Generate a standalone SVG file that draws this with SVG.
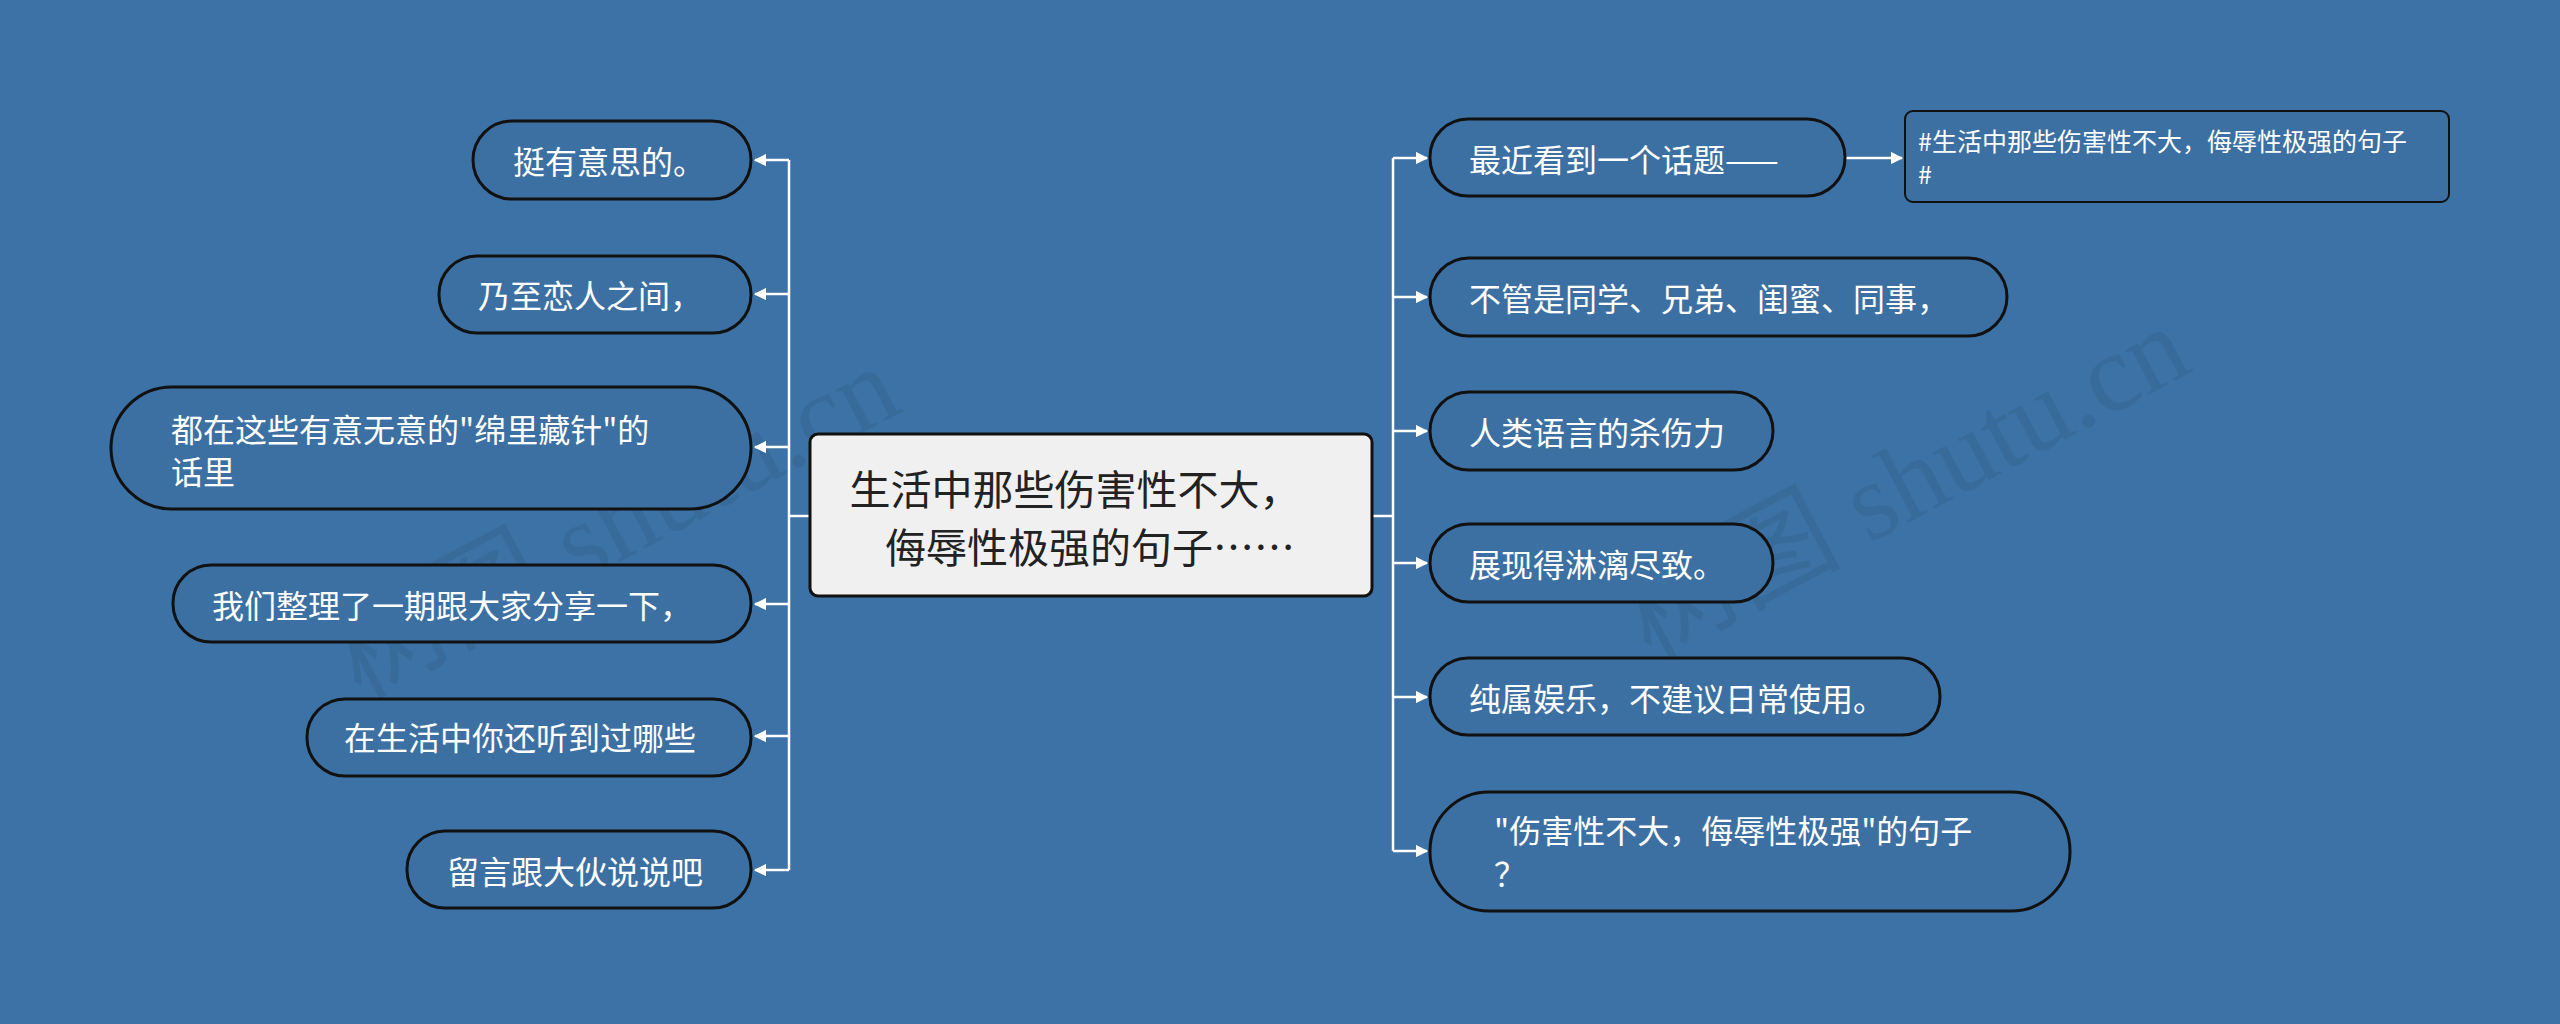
<svg xmlns="http://www.w3.org/2000/svg" width="2560" height="1024" viewBox="0 0 2560 1024">
<defs>
<marker id="ah" viewBox="0 0 10 10" refX="9" refY="5" markerWidth="5" markerHeight="5" orient="auto"><path d="M0,0 L10,5 L0,10 z" fill="#ffffff"/></marker>
<style>
.n{fill:#3c70a3;stroke:#111;stroke-width:3}
.t{fill:#fff;font-family:"Noto Sans CJK SC","Noto Sans",sans-serif;font-size:32px;dominant-baseline:central}
.c{fill:none;stroke:#fff;stroke-width:2.5}
.wm{fill:#000;opacity:0.06;font-family:"Liberation Serif","Noto Sans CJK SC",serif;font-size:110px}
</style>
</defs>
<rect width="2560" height="1024" fill="#3c72a5"/>
<text class="wm" transform="translate(360,700) rotate(-28)">树图 shutu.cn</text>
<text class="wm" transform="translate(1650,660) rotate(-28)">树图 shutu.cn</text>
<g id="connectors">
<path class="c" d="M810,516 H789 M789,160 V870"/>
<path class="c" marker-end="url(#ah)" d="M789,160 H755"/>
<path class="c" marker-end="url(#ah)" d="M789,294 H755"/>
<path class="c" marker-end="url(#ah)" d="M789,447 H755"/>
<path class="c" marker-end="url(#ah)" d="M789,604 H755"/>
<path class="c" marker-end="url(#ah)" d="M789,736 H755"/>
<path class="c" marker-end="url(#ah)" d="M789,870 H755"/>
<path class="c" d="M1372,516 H1393 M1393,158 V851"/>
<path class="c" marker-end="url(#ah)" d="M1393,158 H1427"/>
<path class="c" marker-end="url(#ah)" d="M1393,297 H1427"/>
<path class="c" marker-end="url(#ah)" d="M1393,431 H1427"/>
<path class="c" marker-end="url(#ah)" d="M1393,563 H1427"/>
<path class="c" marker-end="url(#ah)" d="M1393,697 H1427"/>
<path class="c" marker-end="url(#ah)" d="M1393,851 H1427"/>
<path class="c" marker-end="url(#ah)" d="M1845,158 H1902"/>
</g>
<g id="center"><rect x="810" y="434" width="562" height="162" rx="8" fill="#f0f0f0" stroke="#111" stroke-width="3"/>
<text x="1075" y="487" text-anchor="middle" font-family="Noto Sans CJK SC,sans-serif" font-size="41" fill="#222" dominant-baseline="central">生活中那些伤害性不大，</text>
<text x="1090" y="545" text-anchor="middle" font-family="Noto Sans CJK SC,sans-serif" font-size="41" fill="#222" dominant-baseline="central">侮辱性极强的句子……</text></g>
<g id="l1"><rect class="n" x="473" y="121" width="278" height="78" rx="39"/><text class="t" x="513" y="160">挺有意思的。</text></g>
<g id="l2"><rect class="n" x="439" y="256" width="312" height="77" rx="38"/><text class="t" x="478" y="294">乃至恋人之间，</text></g>
<g id="l3"><rect class="n" x="111" y="387" width="640" height="122" rx="61"/><text class="t" x="171" y="428">都在这些有意无意的"绵里藏针"的</text><text class="t" x="171" y="470">话里</text></g>
<g id="l4"><rect class="n" x="173" y="565" width="578" height="77" rx="38"/><text class="t" x="212" y="604">我们整理了一期跟大家分享一下，</text></g>
<g id="l5"><rect class="n" x="307" y="699" width="444" height="77" rx="38"/><text class="t" x="344" y="736">在生活中你还听到过哪些</text></g>
<g id="l6"><rect class="n" x="407" y="831" width="344" height="77" rx="38"/><text class="t" x="447" y="870">留言跟大伙说说吧</text></g>
<g id="r1"><rect class="n" x="1430" y="119" width="415" height="77" rx="38"/><text class="t" x="1469" y="158">最近看到一个话题——</text></g>
<g id="r2"><rect class="n" x="1430" y="258" width="577" height="78" rx="39"/><text class="t" x="1469" y="297">不管是同学、兄弟、闺蜜、同事，</text></g>
<g id="r3"><rect class="n" x="1430" y="392" width="343" height="78" rx="39"/><text class="t" x="1469" y="431">人类语言的杀伤力</text></g>
<g id="r4"><rect class="n" x="1430" y="524" width="343" height="78" rx="39"/><text class="t" x="1469" y="563">展现得淋漓尽致。</text></g>
<g id="r5"><rect class="n" x="1430" y="658" width="510" height="77" rx="38"/><text class="t" x="1469" y="697">纯属娱乐，不建议日常使用。</text></g>
<g id="r6"><rect class="n" x="1430" y="792" width="640" height="119" rx="59"/><text class="t" x="1494" y="829">"伤害性不大，侮辱性极强"的句子</text><text class="t" x="1494" y="872">？</text></g>
<g id="leaf"><rect x="1905" y="111" width="544" height="91" rx="8" fill="#3c70a3" stroke="#111" stroke-width="2"/><text class="t" style="font-size:25px" x="1918" y="140">#生活中那些伤害性不大，侮辱性极强的句子</text><text class="t" style="font-size:25px" x="1918" y="173">#</text></g>
</svg>
